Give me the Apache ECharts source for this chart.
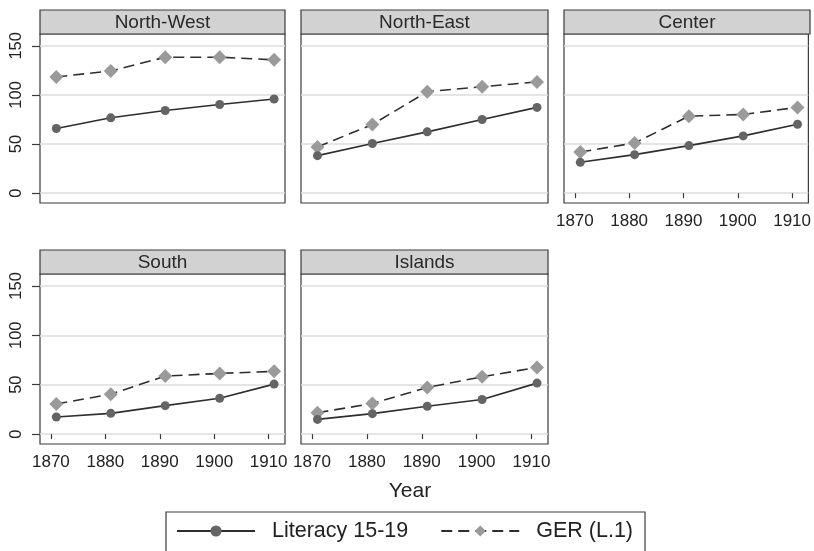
<!DOCTYPE html>
<html><head><meta charset="utf-8">
<script src="https://cdn.jsdelivr.net/npm/echarts@6/dist/echarts.min.js"></script>
<style>html,body{margin:0;padding:0;background:#fff}#c{width:814px;height:551px}</style>
</head><body><div id="c"></div>
<script>
// ---- data ----
const years = [1871, 1881, 1891, 1901, 1911];
const regions = ['North-West', 'North-East', 'Center', 'South', 'Islands'];
const literacyNW = [65.8, 76.7, 84.2, 90.3, 95.8];
const gerNW      = [118.3, 124.4, 138.4, 138.4, 135.7];
const literacyNE = [38.2, 50.5, 62.4, 75.0, 87.3];
const gerNE      = [47.0, 69.9, 103.3, 108.4, 113.2];
const literacyC  = [31.4, 39.2, 48.4, 58.3, 70.2];
const gerC       = [41.9, 51.1, 78.4, 80.1, 87.3];
const literacyS  = [17.3, 21.0, 28.8, 36.3, 50.6];
const gerS       = [30.5, 40.4, 58.7, 61.4, 63.5];
const literacyI  = [14.9, 20.7, 28.2, 35.0, 51.6];
const gerI       = [21.7, 30.9, 47.2, 58.0, 67.5];
const xTicks = [1870, 1880, 1890, 1900, 1910];
const yTicks = [0, 50, 100, 150];
const seriesNames = ['Literacy 15-19', 'GER (L.1)'];
const xTitle = 'Year';

const literacyAll = [literacyNW, literacyNE, literacyC, literacyS, literacyI];
const gerAll = [gerNW, gerNE, gerC, gerS, gerI];

// ---- layout ----
const FONT = '"Liberation Sans", Arial, Helvetica, sans-serif';
const panels = [
  {left: 40,  top: 34,  width: 245, height: 169, yLab: true,  xLab: false},
  {left: 301, top: 34,  width: 247, height: 169, yLab: false, xLab: false},
  {left: 564, top: 34,  width: 246, height: 169, yLab: false, xLab: true},
  {left: 40,  top: 274, width: 245, height: 170, yLab: true,  xLab: true},
  {left: 301, top: 274, width: 247, height: 170, yLab: false, xLab: true}
];
const HEADER_H = 24;

const grid = [], xAxis = [], yAxis = [], series = [], graphic = [];
panels.forEach((p, i) => {
  grid.push({left: p.left, top: p.top, width: p.width, height: p.height,
    show: true, backgroundColor: '#fff', borderColor: '#3a3a3a', borderWidth: 1.2, containLabel: false});
  xAxis.push({type: 'value', gridIndex: i, min: 1868, max: 1913,
    axisLine: {show: false},
    axisTick: {show: p.xLab, customValues: xTicks, length: 5, inside: false, lineStyle: {color: '#3a3a3a', width: 1.2}},
    axisLabel: {show: p.xLab, customValues: xTicks, margin: 10, fontSize: 17, color: '#222', fontFamily: FONT,
      formatter: v => String(v)},
    splitLine: {show: false}});
  yAxis.push({type: 'value', gridIndex: i, min: -10, max: 162,
    axisLine: {show: false},
    axisTick: {show: p.yLab, customValues: yTicks, length: 8, inside: false, lineStyle: {color: '#3a3a3a', width: 1.2}},
    axisLabel: {show: p.yLab, customValues: yTicks, rotate: 90, margin: 15, fontSize: 16.5, color: '#222', fontFamily: FONT,
      formatter: v => String(v)},
    splitLine: {show: true, lineStyle: {color: '#dcdcdc', width: 1.6}}});
  series.push({name: seriesNames[1], type: 'line', xAxisIndex: i, yAxisIndex: i, z: 2,
    data: years.map((y, k) => [y, gerAll[i][k]]),
    symbol: 'diamond', symbolSize: 14,
    lineStyle: {color: '#2e2e2e', width: 1.6, type: [11, 6]},
    itemStyle: {color: '#9a9a9a'}, animation: false});
  series.push({name: seriesNames[0], type: 'line', xAxisIndex: i, yAxisIndex: i, z: 3,
    data: years.map((y, k) => [y, literacyAll[i][k]]),
    symbol: 'circle', symbolSize: 9,
    lineStyle: {color: '#2e2e2e', width: 1.6, type: 'solid'},
    itemStyle: {color: '#646464'}, animation: false});
  graphic.push({type: 'rect', shape: {x: p.left, y: p.top - HEADER_H, width: p.width, height: HEADER_H},
    style: {fill: '#d2d2d2', stroke: '#3a3a3a', lineWidth: 1.2}, z: 10});
  graphic.push({type: 'text', x: p.left + p.width / 2, y: p.top - HEADER_H / 2 + 1,
    style: {text: regions[i], fontSize: 19, fontFamily: FONT, fill: '#2a2a2a', textAlign: 'center', textVerticalAlign: 'middle'}, z: 11});
});
graphic.push({type: 'text', x: 410, y: 491,
  style: {text: xTitle, fontSize: 21, fontFamily: FONT, fill: '#222', textAlign: 'center', textVerticalAlign: 'middle'}});

const chart = echarts.init(document.getElementById('c'), null, {renderer: 'canvas'});
chart.setOption({
  animation: false,
  backgroundColor: '#fff',
  grid, xAxis, yAxis, series, graphic,
  legend: {
    data: seriesNames, left: 166, top: 512, orient: 'horizontal',
    itemWidth: 78, itemHeight: 14, itemGap: 32,
    padding: [7, 12, 12, 10],
    borderColor: '#3a3a3a', borderWidth: 1.2, backgroundColor: '#fff',
    textStyle: {fontSize: 21.5, fontFamily: FONT, color: '#222', padding: [0, 0, 0, 12], lineHeight: 24},
    selectedMode: false
  }
});
</script></body></html>
